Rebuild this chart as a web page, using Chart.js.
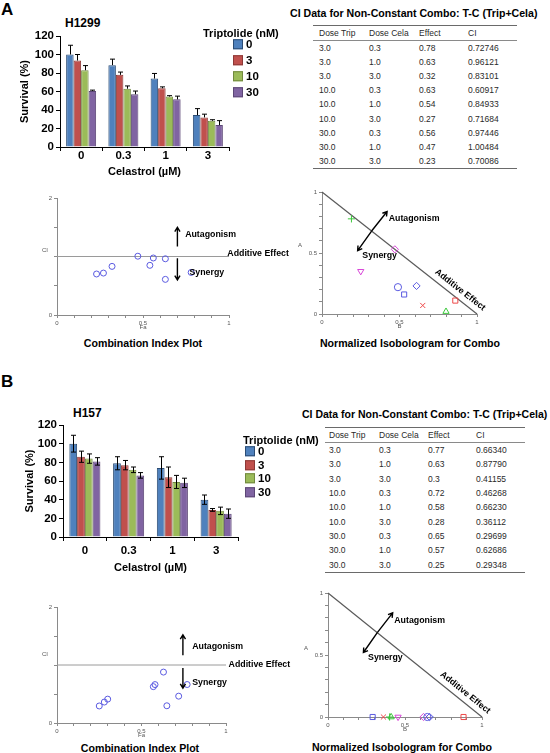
<!DOCTYPE html>
<html>
<head>
<meta charset="utf-8">
<script src="https://cdn.jsdelivr.net/npm/chart.js@4.4.1/dist/chart.umd.min.js"></script>
<style>
  body { margin: 0; width: 550px; height: 753px; position: relative; overflow: hidden; background: #fff;
         font-family: "Liberation Sans", Arial, sans-serif; }
  canvas { position: absolute; }
  .t { position: absolute; white-space: nowrap; line-height: 1; transform: translateY(-50%); font-weight: bold; color: #000; }
  .c { transform: translate(-50%, -50%); }
  table.ci { position: absolute; border-collapse: collapse; font-size: 8.5px; color: #2a2a2a;
             border-top: 1.5px solid #6a6a6a; border-bottom: 1.5px solid #6a6a6a; }
  table.ci td { padding: 0; white-space: nowrap; vertical-align: middle; }
  table.ci tr.head td { border-bottom: 1px solid #8a8a8a; }
  .key { position: absolute; font-weight: bold; font-size: 11.5px; line-height: 1; white-space: nowrap; transform: translateY(-50%); }
  .key span { display: inline-block; width: 8px; height: 8px; margin-right: 3px; border: 1px solid; vertical-align: -1px; }
</style>
</head>
<body>
<div class="t" style="left:1px;top:9px;font-size:17px">A</div>
<div class="t" style="left:1px;top:381px;font-size:17px">B</div>
<div class="t" style="left:65px;top:23px;font-size:12px">H1299</div>
<div class="t" style="left:73px;top:413px;font-size:12px">H157</div>
<div class="t" style="left:290px;top:13px;font-size:10.6px">CI Data for Non-Constant Combo: T-C (Trip+Cela)</div>
<div class="t" style="left:302px;top:414px;font-size:10.5px">CI Data for Non-Constant Combo: T-C (Trip+Cela)</div>
<div class="t c" style="left:143px;top:343px;font-size:10.6px">Combination Index Plot</div>
<div class="t c" style="left:410px;top:343px;font-size:10.6px">Normalized Isobologram for Combo</div>
<div class="t c" style="left:140px;top:748px;font-size:10.6px">Combination Index Plot</div>
<div class="t c" style="left:402px;top:747px;font-size:10.6px">Normalized Isobologram for Combo</div>

<canvas id="barA" width="240" height="185" style="left:0;top:0"></canvas>
<canvas id="barB" width="250" height="185" style="left:0;top:395px"></canvas>
<canvas id="ciA" width="300" height="150" style="left:0;top:185px"></canvas>
<canvas id="isoA" width="260" height="150" style="left:290px;top:185px"></canvas>
<canvas id="ciB" width="305" height="150" style="left:0;top:595px"></canvas>
<canvas id="isoB" width="254" height="150" style="left:296px;top:585px"></canvas>

<script>
/* global Chart */

// survival bars: Celastrol on the x axis, one series per Triptolide dose
var celastrol = ["0", "0.3", "1", "3"];
var triptolide = ["0", "3", "10", "30"];
var survivalTicks = [0, 20, 40, 60, 80, 100, 120];

var h1299T0 = [100, 88.5, 74, 34.5];
var h1299T3 = [93.5, 78, 63.5, 32];
var h1299T10 = [83, 63, 54.5, 28.3];
var h1299T30 = [60.5, 57, 51.5, 23.7];
var h1299T0Sd = [10, 6.5, 5.5, 7];
var h1299T3Sd = [6.5, 3, 1.5, 3.5];
var h1299T10Sd = [5, 3, 1, 1.2];
var h1299T30Sd = [1, 3.5, 3.5, 4.8];

var h157T0 = [100, 79, 74, 40];
var h157T3 = [86, 77, 64, 29];
var h157T10 = [84, 72, 59, 28];
var h157T30 = [81, 66, 58, 25];
var h157T0Sd = [9, 7, 12, 5];
var h157T3Sd = [6, 5, 11, 1.5];
var h157T10Sd = [5, 3, 7, 4];
var h157T30Sd = [4, 3, 5, 5];

// CI tables (also feed the CI plots: Fa = effect)
var tableHead = ["Dose Trip", "Dose Cela", "Effect", "CI"];
var doseTrip = ["3.0", "3.0", "3.0", "10.0", "10.0", "10.0", "30.0", "30.0", "30.0"];
var doseCela = ["0.3", "1.0", "3.0", "0.3", "1.0", "3.0", "0.3", "1.0", "3.0"];
var effectA = ["0.78", "0.63", "0.32", "0.63", "0.54", "0.27", "0.56", "0.47", "0.23"];
var ciA = ["0.72746", "0.96121", "0.83101", "0.60917", "0.84933", "0.71684", "0.97446", "1.00484", "0.70086"];
var effectB = ["0.77", "0.63", "0.3", "0.72", "0.58", "0.28", "0.65", "0.57", "0.25"];
var ciB = ["0.66340", "0.87790", "0.41155", "0.46268", "0.66230", "0.36112", "0.29699", "0.62686", "0.29348"];

// normalized isobologram points (x = B, y = A)
var isoA_B = [0.19, 0.47, 0.25, 0.49, 0.61, 0.53, 0.65, 0.86, 0.80];
var isoA_A = [0.78, 0.53, 0.35, 0.22, 0.23, 0.16, 0.07, 0.11, 0.02];
var isoB_B = [0.40, 0.62, 0.455, 0.645, 0.66, 0.29, 0.36, 0.88, 0.41];
var isoB_A = [0, 0, 0, 0, 0, 0, 0, 0, 0];

var FONT = '"Liberation Sans", Arial, sans-serif';
Chart.defaults.font.family = FONT;

var barFill = ["#4F81BD", "#C0504D", "#9BBB59", "#8064A2"];
var barEdge = ["#2c4d75", "#8c3836", "#71893f", "#5c4776"];
var mBlue = "#5a5ae0", mMag = "#d848d8", mRed = "#ee4a4a", mGreen = "#3cc83c";
var markStyle = ["cross", "rectRot", "triangle", "circle", "rectRot", "rect", "crossRot", "rect", "triangle"];
var markRot = [0, 0, 180, 0, 0, 0, 0, 0, 0];
var markColor = [mGreen, mMag, mMag, mBlue, mBlue, mBlue, mRed, mRed, mGreen];

var errorBars = {
  id: "errorBars",
  afterDatasetsDraw: function (chart, args, opts) {
    var ctx = chart.ctx;
    var y = chart.scales.y;
    ctx.save();
    ctx.strokeStyle = "#000";
    ctx.lineWidth = 1;
    chart.data.datasets.forEach(function (ds, i) {
      chart.getDatasetMeta(i).data.forEach(function (bar, j) {
        var x = Math.round(bar.x) + 0.5;
        var top = y.getPixelForValue(ds.data[j] + ds.errors[j]);
        var bot = opts.both ? y.getPixelForValue(ds.data[j] - ds.errors[j]) : bar.y;
        ctx.beginPath();
        ctx.moveTo(x, top);
        ctx.lineTo(x, bot);
        ctx.moveTo(x - opts.cap, top);
        ctx.lineTo(x + opts.cap, top);
        if (opts.both) {
          ctx.moveTo(x - opts.cap, bot);
          ctx.lineTo(x + opts.cap, bot);
        }
        ctx.stroke();
      });
    });
    ctx.restore();
  }
};

function arrow(ctx, x1, y1, x2, y2) {
  var a = Math.atan2(y2 - y1, x2 - x1);
  var h = 5;
  ctx.lineWidth = 1.4;
  ctx.beginPath();
  ctx.moveTo(x1, y1);
  ctx.lineTo(x2, y2);
  ctx.moveTo(x2 - h * Math.cos(a - 0.55), y2 - h * Math.sin(a - 0.55));
  ctx.lineTo(x2, y2);
  ctx.lineTo(x2 - h * Math.cos(a + 0.55), y2 - h * Math.sin(a + 0.55));
  ctx.stroke();
}

var notes = {
  id: "notes",
  afterDraw: function (chart, args, opts) {
    var ctx = chart.ctx;
    var xs = chart.scales.x;
    var ys = chart.scales.y;
    (opts.items || []).forEach(function (it) {
      ctx.save();
      ctx.strokeStyle = "#000";
      if (it.arrow) {
        arrow(ctx, xs.getPixelForValue(it.arrow[0]), ys.getPixelForValue(it.arrow[1]),
          xs.getPixelForValue(it.arrow[2]), ys.getPixelForValue(it.arrow[3]));
        ctx.restore();
        return;
      }
      var px = it.x === undefined ? chart.chartArea.left : xs.getPixelForValue(it.x);
      var py = ys.getPixelForValue(it.y);
      ctx.font = (it.bold === false ? "" : "bold ") + (it.size || 8.8) + "px " + FONT;
      ctx.fillStyle = it.color || "#000";
      ctx.textAlign = it.align || "left";
      ctx.textBaseline = it.base || "middle";
      if (it.along) {
        var a = Math.atan2(ys.getPixelForValue(0) - ys.getPixelForValue(1), xs.getPixelForValue(1) - xs.getPixelForValue(0));
        ctx.translate(px + Math.sin(a) * it.offset, py - Math.cos(a) * it.offset);
        ctx.rotate(a);
        ctx.fillText(it.text, 0, 0);
      } else {
        ctx.fillText(it.text, px + (it.dx || 0), py + (it.dy || 0));
      }
      ctx.restore();
    });
  }
};

function makeBars(id, series, errs, o) {
  new Chart(document.getElementById(id), {
    type: "bar",
    data: {
      labels: celastrol,
      datasets: series.map(function (s, i) {
        return {
          label: triptolide[i],
          data: s,
          errors: errs[i],
          backgroundColor: barFill[i],
          borderColor: barEdge[i],
          borderWidth: 1,
          categoryPercentage: 0.71,
          barPercentage: 1,
        };
      }),
    },
    options: {
      responsive: false,
      animation: false,
      layout: { padding: o.pad },
      plugins: {
        legend: { display: false },
        tooltip: { enabled: false },
        errorBars: { both: o.both, cap: 2.5 },
      },
      scales: {
        x: {
          border: { color: "#000", width: 1 },
          grid: { drawOnChartArea: false, tickLength: 4, color: "#000", offset: true },
          ticks: { color: "#000", font: { size: 11.5, weight: "bold" }, padding: o.tickPad },
          title: { display: true, text: "Celastrol (µM)", color: "#000", font: { size: 11, weight: "bold" }, padding: 0 },
          afterFit: function (s) { s.height = o.xH; },
        },
        y: {
          min: 0,
          max: 120,
          afterBuildTicks: function (s) { s.ticks = survivalTicks.map(function (v) { return { value: v }; }); },
          border: { color: "#000", width: 1 },
          grid: { drawOnChartArea: false, tickLength: 4, color: "#000" },
          ticks: { color: "#000", font: { size: 11.5, weight: "bold" }, padding: 2 },
          title: { display: true, text: "Survival (%)", color: "#000", font: { size: 11, weight: "bold" }, padding: { top: o.yTitlePad, bottom: 0 } },
          afterFit: function (s) { s.width = o.yW; },
        },
      },
    },
    plugins: [errorBars],
  });
}

function smallAxis(max, step, shown, title, fit) {
  return {
    type: "linear",
    min: 0,
    max: max,
    border: { color: "#8a8a8a", width: 1 },
    grid: { drawOnChartArea: false, tickLength: 3, color: "#8a8a8a" },
    ticks: {
      stepSize: step,
      autoSkip: false,
      maxRotation: 0,
      padding: 2,
      color: "#555",
      font: { size: 6 },
      callback: function (v) {
        for (var i = 0; i < shown.length; i++) if (Math.abs(v - shown[i]) < 1e-6) return String(shown[i]);
        return "";
      },
    },
    title: { display: !!title, text: title, color: "#555", font: { size: 6 }, padding: 0 },
    afterFit: fit,
  };
}

function makeScatter(id, datasets, o) {
  new Chart(document.getElementById(id), {
    type: "scatter",
    data: { datasets: datasets },
    options: {
      responsive: false,
      animation: false,
      layout: { padding: o.pad },
      plugins: { legend: { display: false }, tooltip: { enabled: false }, notes: { items: o.notes } },
      scales: {
        x: smallAxis(1, 0.1, [0, 0.5, 1], o.xTitle, function (s) { s.height = 16; }),
        y: smallAxis(o.yMax, o.yStep, o.yShown, "", function (s) { s.width = o.yW; }),
      },
    },
    plugins: [notes],
  });
}

function ciSets(effect, ci, lineEnd) {
  return [
    {
      data: effect.map(function (e, i) { return { x: +e, y: +ci[i] }; }),
      pointStyle: "circle",
      pointRadius: 3,
      borderColor: mBlue,
      backgroundColor: "rgba(0,0,0,0)",
      borderWidth: 1,
      clip: false,
    },
    {
      data: [{ x: 0, y: 1 }, { x: lineEnd, y: 1 }],
      showLine: true,
      pointRadius: 0,
      borderColor: "#9a9a9a",
      borderWidth: 1,
      clip: false,
    },
  ];
}

function isoSets(bx, ay) {
  return [
    {
      data: bx.map(function (b, i) { return { x: b, y: ay[i] }; }),
      pointStyle: markStyle,
      rotation: markRot,
      pointRadius: 3.6,
      borderColor: markColor,
      backgroundColor: "rgba(0,0,0,0)",
      borderWidth: 1,
      clip: false,
    },
    {
      data: [{ x: 0, y: 1 }, { x: 1, y: 0 }],
      showLine: true,
      pointRadius: 0,
      borderColor: "#5a5a5a",
      borderWidth: 1.2,
      clip: false,
    },
  ];
}

function isoNotes(yTitle) {
  return [
    { arrow: [0.32, 0.68, 0.42, 0.84] },
    { arrow: [0.32, 0.68, 0.23, 0.52] },
    { text: "Autagonism", x: 0.43, y: 0.78 },
    { text: "Synergy", x: 0.26, y: 0.48 },
    { text: "Additive Effect", x: 0.857, y: 0.143, along: true, offset: 8.5, align: "center" },
    { text: "A", y: yTitle, dx: -22, size: 6, bold: false, color: "#555", align: "center" },
  ];
}

function makeTable(left, top, indent, widths, rowH, effect, ci) {
  var t = document.createElement("table");
  t.className = "ci";
  t.style.left = left + "px";
  t.style.top = top + "px";
  var rows = [tableHead];
  doseTrip.forEach(function (d, i) { rows.push([d, doseCela[i], effect[i], ci[i]]); });
  rows.forEach(function (r, i) {
    var tr = document.createElement("tr");
    if (i === 0) tr.className = "head";
    r.forEach(function (cell, j) {
      var td = document.createElement("td");
      td.textContent = cell;
      td.style.width = (widths[j] - (j === 0 ? indent : 0)) + "px";
      td.style.height = (i === 0 ? 14 : rowH) + "px";
      if (j === 0) td.style.paddingLeft = indent + "px";
      tr.appendChild(td);
    });
    t.appendChild(tr);
  });
  document.body.appendChild(t);
}

function makeKey(titleLeft, titleTop, boxLeft, tops) {
  var h = document.createElement("div");
  h.className = "key";
  h.style.cssText = "left:" + titleLeft + "px;top:" + titleTop + "px;font-size:11px";
  h.textContent = "Triptolide (nM)";
  document.body.appendChild(h);
  triptolide.forEach(function (name, i) {
    var d = document.createElement("div");
    d.className = "key";
    d.style.left = boxLeft + "px";
    d.style.top = tops[i] + "px";
    d.innerHTML = '<span style="background:' + barFill[i] + ";border-color:" + barEdge[i] + '"></span>' + name;
    document.body.appendChild(d);
  });
}

makeBars("barA", [h1299T0, h1299T3, h1299T10, h1299T30], [h1299T0Sd, h1299T3Sd, h1299T10Sd, h1299T30Sd],
  { pad: { top: 36, right: 11, bottom: 6, left: 0 }, yW: 60, xH: 32, tickPad: -2, yTitlePad: 18, both: false });
makeBars("barB", [h157T0, h157T3, h157T10, h157T30], [h157T0Sd, h157T3Sd, h157T10Sd, h157T30Sd],
  { pad: { top: 30, right: 12, bottom: 5, left: 0 }, yW: 63, xH: 38, tickPad: 2.5, yTitlePad: 23, both: true });

makeScatter("ciA", ciSets(effectA, ciA, 1), {
  pad: { top: 13, right: 71, bottom: 4, left: 0 }, yW: 57, yMax: 2, yStep: 0.5, yShown: [0, 2], xTitle: "Fa",
  notes: [
    { arrow: [0.70, 1.17, 0.70, 1.5] },
    { arrow: [0.70, 0.97, 0.70, 0.6] },
    { text: "Autagonism", x: 0.745, y: 1.37 },
    { text: "Synergy", x: 0.77, y: 0.73 },
    { text: "Additive Effect", x: 0.99, y: 1, base: "alphabetic", dy: -1 },
    { text: "CI", y: 1.11, dx: -12, size: 6, bold: false, color: "#555", align: "center" },
  ],
});
makeScatter("ciB", ciSets(effectB, ciB, 1), {
  pad: { top: 12, right: 79, bottom: 6, left: 0 }, yW: 57, yMax: 2, yStep: 0.5, yShown: [0, 2], xTitle: "Fa",
  notes: [
    { arrow: [0.745, 1.17, 0.745, 1.52] },
    { arrow: [0.745, 0.95, 0.745, 0.6] },
    { text: "Autagonism", x: 0.80, y: 1.31 },
    { text: "Synergy", x: 0.80, y: 0.69 },
    { text: "Additive Effect", x: 1.015, y: 1 },
    { text: "CI", y: 1.19, dx: -12, size: 6, bold: false, color: "#555", align: "center" },
  ],
});
makeScatter("isoA", isoSets(isoA_B, isoA_A), {
  pad: { top: 7, right: 73, bottom: 5, left: 0 }, yW: 32, yMax: 1, yStep: 0.1, yShown: [0, 0.5, 1], xTitle: "B",
  notes: isoNotes(0.566),
});
makeScatter("isoB", isoSets(isoB_B, isoB_A), {
  pad: { top: 8, right: 68, bottom: 2, left: 0 }, yW: 32, yMax: 1, yStep: 0.1, yShown: [0, 0.5, 1], xTitle: "B",
  notes: isoNotes(0.556),
});

makeTable(313, 25, 6, [56, 50, 49, 49], 14.1, effectA, ciA);
makeTable(325, 427, 4, [54, 49, 48, 49], 14.3, effectB, ciB);

makeKey(203, 33, 233, [45, 61, 77, 93]);
makeKey(243, 440, 245, [452, 465.5, 479, 492.5]);
</script>
</body>
</html>
